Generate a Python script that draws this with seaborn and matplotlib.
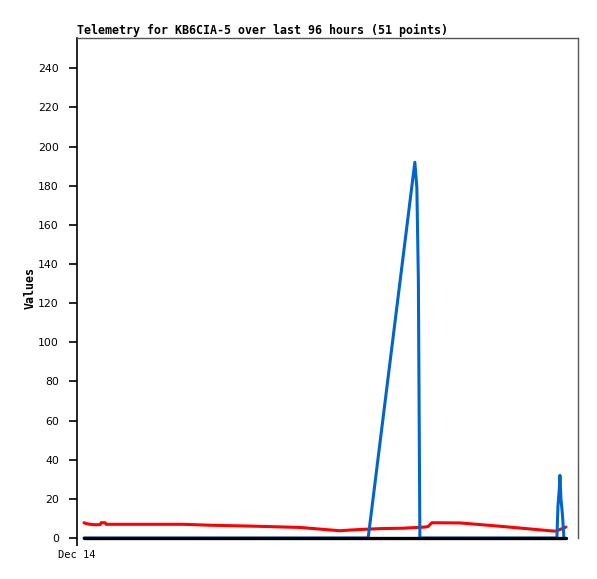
import numpy as np
import pandas as pd
import seaborn as sns
import matplotlib as mpl
mpl.use('Agg')
import matplotlib.pyplot as plt

# hours since start of window (Dec 14)
red_hours = [0.0, 0.4, 1.0, 2.0, 3.2, 3.4, 4.2, 4.4, 19.7, 25.5, 33.0, 43.0, 51.0, 52.6,
             55.4, 59.0, 63.5, 67.9, 68.5, 69.3, 74.9, 82.9, 92.8, 94.0, 96.0]
red_vals = [7.8, 7.4, 7.1, 6.8, 6.8, 7.8, 7.8, 7.0, 7.0, 6.5, 6.1, 5.4, 3.7, 4.0,
            4.4, 4.8, 5.0, 5.6, 5.8, 7.8, 7.7, 6.0, 3.7, 3.5, 5.6]

blue_hours = [0.0, 56.6, 65.9, 66.3, 66.6, 66.8, 66.9, 94.2, 94.4, 94.7, 94.8, 95.0, 95.3, 95.6]
blue_vals = [0, 0, 192, 179, 132, 44, 0, 0, 16, 26, 32, 20, 12, 0]

black_hours = [0.0, 96.0]
black_vals = [0, 0]

red = pd.DataFrame({'hours': red_hours, 'value': red_vals})
blue = pd.DataFrame({'hours': blue_hours, 'value': blue_vals})
black = pd.DataFrame({'hours': black_hours, 'value': black_vals})

sns.set_style('white')
fig = plt.figure(figsize=(5.97, 5.79), dpi=100)
ax = fig.add_axes([77 / 597, 41 / 579, 501 / 597, 500 / 579])

sns.lineplot(data=red, x='hours', y='value', color='#ff0000', linewidth=2.2, ax=ax)
sns.lineplot(data=blue, x='hours', y='value', color='#0066cc', linewidth=2.2, ax=ax)
sns.lineplot(data=black, x='hours', y='value', color='black', linewidth=2.4, ax=ax)
for line in ax.lines:
    line.set_clip_on(False)

ax.set_xlim(-1.4, 98.4)
ax.set_ylim(0, 255.5)
ax.set_yticks(range(0, 241, 20))
ax.set_xticks([-1.4])
ax.set_xticklabels(['Dec 14'], family='DejaVu Sans Mono', fontsize=7.5)
ax.tick_params(axis='y', direction='out', length=6, width=1.2, color='black', labelcolor='black',
               labelsize=7.8, pad=7, left=True)
ax.tick_params(axis='x', direction='out', length=6, width=1.2, color='black', labelcolor='black',
               pad=3, bottom=True)

ax.spines['bottom'].set_visible(False)
ax.spines['left'].set_color('black')
ax.spines['left'].set_linewidth(1.2)
for s in ['top', 'right']:
    ax.spines[s].set_color('#555555')
    ax.spines[s].set_linewidth(1.0)

ax.set_xlabel('')
ax.set_ylabel('Values', family='DejaVu Sans Mono', fontweight='bold', fontsize=8.4, color='black')
ax.yaxis.set_label_coords(-0.08, 0.5)
ax.set_title('Telemetry for KB6CIA-5 over last 96 hours (51 points)', loc='left',
             family='DejaVu Sans Mono', fontweight='bold', fontsize=8.4, pad=3, color='black')

fig.savefig('out.png', dpi=100)
